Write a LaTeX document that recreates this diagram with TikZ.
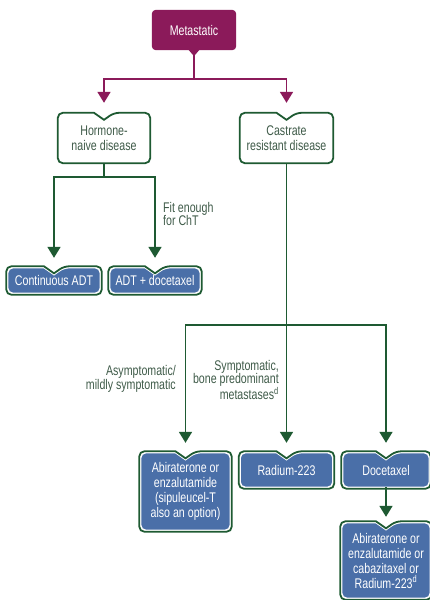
\documentclass[tikz,border=0pt]{standalone}
\usepackage{fontspec}
\setmainfont{Liberation Sans}[FakeStretch=0.76]
\usepackage{xcolor}
\usetikzlibrary{arrows.meta,calc,backgrounds}
\definecolor{plum}{HTML}{8B1A5A}
\definecolor{forest}{HTML}{1E5A32}
\definecolor{steel}{HTML}{4A6FA8}
\definecolor{sage}{HTML}{3E5A48}
\tikzset{
	boxtext/.style={inner sep=0pt, align=center, font=\fontsize{14}{15}\selectfont},
	topbox/.style={boxtext, text=white},
	stagebox/.style={boxtext, text=sage},
	treatbox/.style={boxtext, text=white},
	branchlabel/.style={inner sep=0pt, text=sage, font=\fontsize{14}{13.5}\selectfont},
	plumline/.style={plum, line width=1.8pt, -{Triangle[width=13pt,length=11pt]}, shorten >=10pt},
	forestline/.style={forest, line width=1.8pt},
	forestarrow/.style={forestline, -{Triangle[width=13pt,length=11pt]}, shorten >=10pt}
}
\newcommand{\notchframe}[2]{($(#1.north)+(-10pt,#2)$) [rounded corners=5pt] -- ($(#1.north west)+(-#2,#2)$) -- ($(#1.south west)+(-#2,-#2)$) -- ($(#1.south east)+(#2,-#2)$) -- ($(#1.north east)+(#2,#2)$) -- ($(#1.north)+(10pt,#2)$) [sharp corners] -- ($(#1.north)+(0pt,#2-7pt)$) -- cycle}

\begin{document}
\begin{tikzpicture}[x=1pt, y=-1pt]
			\useasboundingbox (0,0) rectangle (429,600);

			\node[topbox, minimum width=84pt, minimum height=40pt]		(meta) at (194,30) {Metastatic};
			\node[stagebox, minimum width=92pt, minimum height=50pt]	(horm) at (104,138) {Hormone-\\naive disease};
			\node[stagebox, minimum width=93pt, minimum height=50pt]	(cast) at (286.5,138) {Castrate\\resistant disease};

			\node[treatbox, minimum width=92pt, minimum height=25pt]	(cadt) at (54,280.5) {Continuous ADT};
			\node[treatbox, minimum width=90pt, minimum height=25pt]	(adtdoc) at (155,280.5) {ADT + docetaxel};

			\node[treatbox, minimum width=89pt, minimum height=77pt]	(abi) at (185.5,491.5) {Abiraterone or\\enzalutamide\\(sipuleucel-T\\also an option)};
			\node[treatbox, minimum width=92pt, minimum height=34pt]	(rad) at (286.5,470) {Radium-223};
			\node[treatbox, minimum width=86pt, minimum height=34pt]	(doc) at (386,470) {Docetaxel};
			\node[treatbox, minimum width=88pt, minimum height=75pt]	(last) at (386,560.5) {Abiraterone or\\enzalutamide or\\cabazitaxel or\\Radium-223\textsuperscript{d}};

			\node[branchlabel, anchor=west, align=left]		(fit) at (163,214) {Fit enough\\for ChT};
			\node[branchlabel, anchor=east, align=right]	(asym) at (176,379) {Asymptomatic/\\mildly symptomatic};
			\node[branchlabel, anchor=east, align=right]	(symp) at (279,380) {Symptomatic,\\bone predominant\\metastases\textsuperscript{d}};

			\coordinate (msplit) at (194,79);
			\coordinate (hsplit) at (104,177);
			\coordinate (csplit) at (286.5,325);

			\draw[plumline]		(meta.south) -- (msplit) -| (horm.north);
			\draw[plumline]		(msplit) -| (cast.north);

			\draw[forestarrow]	(horm.south) -- (hsplit) -| (cadt.north);
			\draw[forestarrow]	(hsplit) -| (adtdoc.north);

			\draw[forestline]	(cast.south) -- (csplit);
			\draw[forestarrow]	(csplit) -| (abi.north);
			\draw[forestarrow]	(csplit) -- (rad.north);
			\draw[forestarrow]	(csplit) -| (doc.north);
			\draw[forestarrow, shorten >=6pt]	(doc.south) -- (last.north);

			\begin{scope}[on background layer]
				\fill[plum, rounded corners=4pt]	(meta.north west) rectangle (meta.south east);
				\fill[plum]	($(meta.south)+(-6pt,1pt)$) -- ($(meta.south)+(0pt,-6pt)$) -- ($(meta.south)+(6pt,1pt)$) -- cycle;
				\foreach \n in {horm,cast}
					\filldraw[fill=white, draw=forest, line width=1.8pt] \notchframe{\n}{0pt};
				\foreach \n in {cadt,adtdoc,abi,rad,doc,last} {
					\filldraw[fill=steel, draw=white, line width=1.2pt] \notchframe{\n}{0pt};
					\draw[forest, line width=1.8pt] \notchframe{\n}{1.5pt};
				}
			\end{scope}
		\end{tikzpicture}
\end{document}
